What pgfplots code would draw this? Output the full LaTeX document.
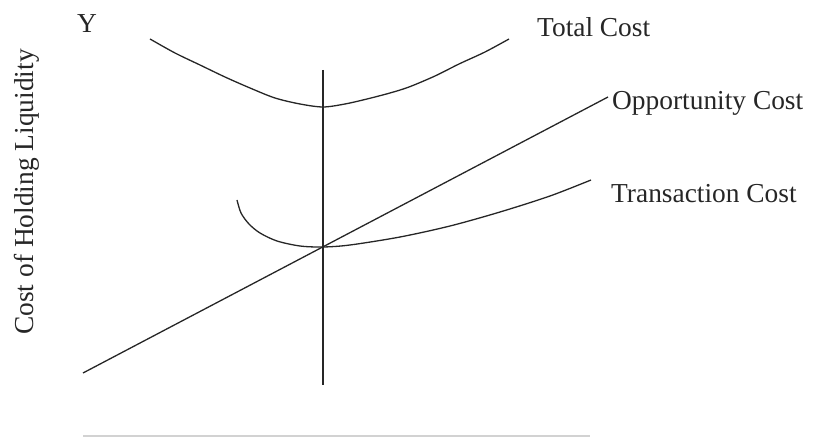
\documentclass[border=0pt]{standalone}
\usepackage{pgfplots}
\pgfplotsset{compat=1.18}
\usepackage{fontspec}
\setmainfont{Liberation Serif}
\tikzset{lab/.style={font=\fontsize{27.5}{30}\selectfont, text=black!85, inner sep=0pt}}
\begin{document}
\begin{tikzpicture}
\begin{axis}[
  width=818bp, height=438bp, scale only axis,
  xmin=0, xmax=818, ymin=-438, ymax=0,
  hide axis, clip=false,
  crv/.style={black!85, line width=1.3bp, no marks}
]
% invisible frame fixing the page size
\path (axis cs:0,-438) rectangle (axis cs:818,0);
% total cost
\addplot[crv, smooth] coordinates {(150,-39) (175,-53) (200,-65) (225,-77) (250,-88) (275,-98) (300,-104) (323,-107) (345,-104) (367,-99) (390,-93) (409,-87) (435,-76) (459,-64) (485,-52) (509,-39)};
% opportunity cost
\addplot[crv] coordinates {(83,-373) (608,-97)};
% transaction cost
\addplot[crv, smooth] coordinates {(237,-200) (241,-213) (249,-224) (260,-233) (277,-241) (300,-246) (323,-247) (350,-245) (400,-237) (450,-226) (500,-212) (550,-196) (591,-180)};
% optimum
\addplot[black!85, line width=1.8bp] coordinates {(323,-70) (323,-385)};
% bottom bar
\addplot[gray!35, line width=1.5bp] coordinates {(83,-436) (590,-436)};
\node[lab, anchor=base west] at (axis cs:537,-37) {Total Cost};
\node[lab, anchor=base west] at (axis cs:612,-110) {Opportunity Cost};
\node[lab, anchor=base west] at (axis cs:611,-203) {Transaction Cost};
\node[lab, anchor=base] at (axis cs:87,-33) {Y};
\node[lab, anchor=base, rotate=90] at (axis cs:33,-192) {Cost of Holding Liquidity};
\end{axis}
\end{tikzpicture}
\end{document}
